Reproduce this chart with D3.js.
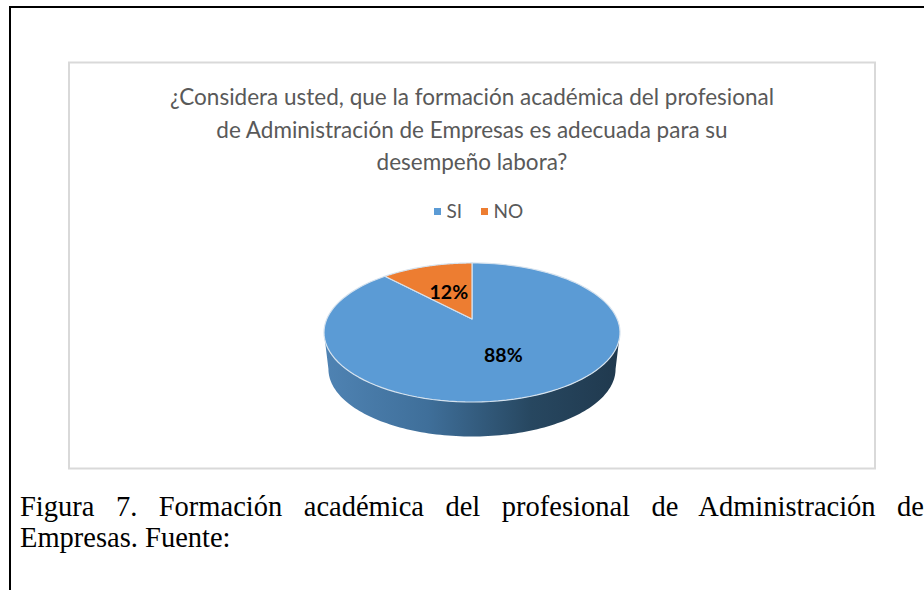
<!DOCTYPE html>
<html><head><meta charset="utf-8">
<script src="https://cdn.jsdelivr.net/npm/d3@7"></script>
<style>html,body{margin:0;padding:0;background:#fff}svg{display:block}</style>
</head><body><svg id="c" width="924" height="590"></svg>
<script>
const categories = ["SI", "NO"];
const seriesValues = [88, 12];
const seriesColors = ["#5b9bd5", "#ed7d31"];
const titleLines = ["¿Considera usted, que la formación académica del profesional",
  "de Administración de Empresas es adecuada para su", "desempeño labora?"];
const captionLines = ["Figura 7. Formación académica del profesional de Administración de", "Empresas. Fuente:"];

const svg = d3.select("#c");
const defs = svg.append("defs");
const grad = defs.append("linearGradient").attr("id","wall").attr("x1","0").attr("x2","1").attr("y1","0").attr("y2","0");
[[0,"#4f83b3"],[.35,"#3f6f9a"],[.7,"#274760"],[1,"#20394e"]].forEach(s=>grad.append("stop").attr("offset",s[0]).attr("stop-color",s[1]));

// page frame and chart frame
svg.append("path").attr("d","M10,590V7H924").attr("fill","none").attr("stroke","#000").attr("stroke-width",2);
svg.append("rect").attr("x",69).attr("y",62.5).attr("width",806).attr("height",406).attr("fill","#fff").attr("stroke","#d9d9d9").attr("stroke-width",2);

// title
svg.append("g").selectAll("text").data(titleLines).join("text")
  .attr("x",472).attr("y",(d,i)=>105+i*32.5).attr("text-anchor","middle")
  .attr("font-family","Lato").attr("font-size",22.5).attr("fill","#595959").text(d=>d);

// legend
const legendX = d3.scalePoint().domain(categories).range([434,481]);
const lg = svg.append("g").selectAll("g").data(categories).join("g").attr("transform",d=>`translate(${legendX(d)},0)`);
lg.append("rect").attr("x",0).attr("y",208).attr("width",7).attr("height",7).attr("fill",(d,i)=>seriesColors[i]);
lg.append("text").attr("x",12.5).attr("y",217.5).attr("font-family","Lato").attr("font-size",19).attr("fill","#595959").text(d=>d);

// perspective projection of the unit pie disc
const cx=472, apexY=319, K=0.194, A=145.2, B=66.9;
const project=(theta,r,scale=1,dy=0)=>{
  const s=r*Math.sin(theta), c=r*Math.cos(theta), w=1+K*c;
  return [cx+scale*A*s/w, apexY+dy-scale*B*c/w];
};
const pie=d3.pie().sort(null).value(d=>d);
const arcs=pie(seriesValues);
const line=d3.line();
const arcPts=(a0,a1,scale,dy)=>d3.range(0,121).map(i=>project(a0+(a1-a0)*i/120,1,scale,dy));

// side wall
const wallStart=Math.PI/2+Math.asin(K), wallEnd=2*Math.PI-wallStart;
svg.append("path").attr("fill","url(#wall)")
  .attr("d",line([...arcPts(wallStart,wallEnd,1,0),...arcPts(wallEnd,wallStart,0.97,37)])+"Z");

// slices
svg.append("g").selectAll("path").data(arcs).join("path")
  .attr("d",d=>line([project(0,0),...arcPts(d.startAngle,d.endAngle,1,0)])+"Z")
  .attr("fill",(d,i)=>seriesColors[i]).attr("stroke","#d5e2ee").attr("stroke-width",1.2).attr("stroke-linejoin","round");

// labels
const labelR=[0.53,0.47];
svg.append("g").selectAll("text").data(arcs).join("text")
  .attr("transform",(d,i)=>{const p=project((d.startAngle+d.endAngle)/2,labelR[i]);return `translate(${p[0]},${p[1]})`;})
  .attr("text-anchor","middle").attr("dy","0.36em")
  .attr("font-family","Lato").attr("font-weight",700).attr("font-size",19.5).attr("fill","#000")
  .text(d=>d.value+"%");

// caption
const cap=svg.append("g").selectAll("text").data(captionLines).join("text")
  .attr("x",20).attr("y",(d,i)=>516+i*31)
  .attr("font-family","Liberation Serif").attr("font-size",28.5).attr("fill","#000").text(d=>d);
cap.filter((d,i)=>i===0).each(function(d){
  const w=this.getComputedTextLength(), gaps=d.split(" ").length-1;
  d3.select(this).attr("word-spacing",(924-20-w)/gaps);
});
</script></body></html>
